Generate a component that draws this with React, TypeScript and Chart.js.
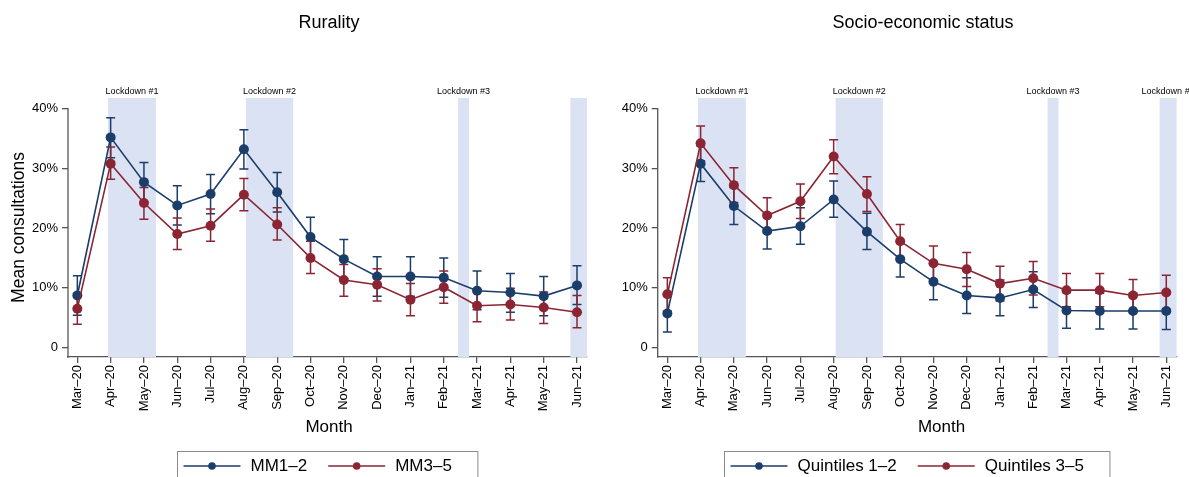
import React, { useEffect, useRef } from "react";
import { Chart, registerables } from "chart.js";

Chart.register(...registerables);

const FONT = "'Liberation Sans', Arial, Helvetica, sans-serif";
const BLUE = "#1b3d6a";
const RED = "#8b2533";
const BAND = "#dbe2f3";
const AXIS = "#555555";

// ---------- shared axis data ----------
const months = [
  "Mar–20", "Apr–20", "May–20", "Jun–20", "Jul–20", "Aug–20", "Sep–20", "Oct–20",
  "Nov–20", "Dec–20", "Jan–21", "Feb–21", "Mar–21", "Apr–21", "May–21", "Jun–21",
];
const yTicks = [0, 10, 20, 30, 40];
const yTitle = "Mean consultations";
const xTitle = "Month";

// lockdown periods (in month-index units)
const lockdownStart = [0.92, 5.06, 11.43, 14.8];
const lockdownEnd = [2.36, 6.48, 11.76, 15.6];
const lockdownLabels = ["Lockdown #1", "Lockdown #2", "Lockdown #3", "Lockdown #4"];

// ---------- Rurality ----------
const ruralityTitle = "Rurality";
const ruralityNames = ["MM1–2", "MM3–5"];
const mm12Mean = [8.7, 35.2, 27.7, 23.8, 25.7, 33.2, 26.0, 18.5, 14.8, 11.9, 11.9, 11.7, 9.5, 9.2, 8.6, 10.4];
const mm12Low = [5.4, 31.8, 24.4, 20.5, 22.4, 29.9, 22.7, 15.2, 11.5, 8.6, 8.6, 8.4, 6.3, 5.9, 5.3, 7.2];
const mm12High = [12.0, 38.5, 31.0, 27.1, 29.0, 36.5, 29.3, 21.8, 18.1, 15.2, 15.2, 15.0, 12.8, 12.4, 11.9, 13.7];
const mm35Mean = [6.5, 30.8, 24.2, 19.0, 20.4, 25.6, 20.6, 15.0, 11.3, 10.5, 8.0, 10.1, 7.0, 7.2, 6.7, 5.9];
const mm35Low = [3.9, 28.2, 21.5, 16.4, 17.8, 22.9, 18.0, 12.4, 8.6, 7.8, 5.3, 7.4, 4.3, 4.6, 4.0, 3.3];
const mm35High = [9.1, 33.6, 26.8, 21.7, 23.2, 28.3, 23.4, 17.8, 13.9, 13.2, 10.7, 12.8, 9.7, 9.9, 9.3, 8.7];

// ---------- Socio-economic status ----------
const sesTitle = "Socio-economic status";
const sesNames = ["Quintiles 1–2", "Quintiles 3–5"];
const q12Mean = [5.7, 30.8, 23.7, 19.5, 20.3, 24.8, 19.4, 14.8, 11.0, 8.7, 8.3, 9.7, 6.2, 6.1, 6.1, 6.1];
const q12Low = [2.6, 27.8, 20.6, 16.5, 17.3, 21.8, 16.4, 11.8, 8.0, 5.7, 5.3, 6.7, 3.2, 3.1, 3.1, 3.0];
const q12High = [8.8, 33.8, 26.8, 22.5, 23.4, 27.9, 22.5, 17.8, 14.0, 11.7, 11.3, 12.7, 9.2, 9.1, 9.1, 9.1];
const q35Mean = [8.9, 34.2, 27.2, 22.1, 24.5, 32.0, 25.7, 17.8, 14.1, 13.1, 10.7, 11.6, 9.6, 9.6, 8.7, 9.2];
const q35Low = [6.1, 31.3, 24.3, 19.2, 21.6, 29.1, 22.8, 15.0, 11.3, 10.2, 7.8, 8.8, 6.8, 6.8, 5.9, 6.4];
const q35High = [11.7, 37.1, 30.1, 25.1, 27.4, 34.8, 28.6, 20.6, 17.0, 15.9, 13.6, 14.4, 12.4, 12.4, 11.4, 12.1];

type Series = { label: string; color: string; mean: number[]; low: number[]; high: number[] };
type PanelSpec = {
  width: number;
  title: string;
  titleX: number;
  monthX: number;
  showYTitle: boolean;
  areaLeft: number;
  areaRight: number;
  xMin: number;
  xMax: number;
  labelCount: number;
  series: Series[];
};

const AREA_TOP = 98;
const AREA_BOTTOM = 357;
const X_AXIS_H = 81;
const H = 477;

const decorPlugin = {
  id: "decor",
  beforeDatasetsDraw(chart: any, _args: any, opts: any) {
    const { ctx, chartArea, scales } = chart;
    const x = scales.x;
    const y = scales.y;
    ctx.save();
    // lockdown bands
    ctx.fillStyle = BAND;
    const centers: number[] = [];
    for (let i = 0; i < lockdownStart.length; i++) {
      const x0 = Math.max(x.getPixelForValue(lockdownStart[i]), chartArea.left);
      const x1 = Math.min(x.getPixelForValue(lockdownEnd[i]), chartArea.right);
      ctx.fillRect(x0, chartArea.top, x1 - x0, chartArea.bottom - chartArea.top);
      centers.push((x0 + x1) / 2);
    }
    // lockdown labels
    ctx.fillStyle = "#000";
    ctx.font = `9px ${FONT}`;
    ctx.textAlign = "center";
    ctx.textBaseline = "middle";
    for (let i = 0; i < opts.labelCount; i++) {
      ctx.fillText(lockdownLabels[i], centers[i], 91.5);
    }
    // error bars
    const metas = chart.getSortedVisibleDatasetMetas().slice().reverse();
    for (const meta of metas) {
      const ds = chart.data.datasets[meta.index];
      ctx.strokeStyle = ds.borderColor;
      ctx.lineWidth = 1.5;
      const cap = 4.5;
      ds.lower.forEach((lo: number, j: number) => {
        const hi = ds.upper[j];
        const px = x.getPixelForValue(j);
        const pl = y.getPixelForValue(lo);
        const ph = y.getPixelForValue(hi);
        ctx.beginPath();
        ctx.moveTo(px, pl);
        ctx.lineTo(px, ph);
        ctx.moveTo(px - cap, pl);
        ctx.lineTo(px + cap, pl);
        ctx.moveTo(px - cap, ph);
        ctx.lineTo(px + cap, ph);
        ctx.stroke();
      });
    }
    ctx.restore();
  },
  afterDraw(chart: any, _args: any, opts: any) {
    const { ctx, chartArea, scales } = chart;
    const y = scales.y;
    ctx.save();
    // y axis line
    ctx.strokeStyle = AXIS;
    ctx.lineWidth = 1.3;
    ctx.beginPath();
    ctx.moveTo(chartArea.left, y.getPixelForValue(yTicks[yTicks.length - 1]) - 0.7);
    ctx.lineTo(chartArea.left, chartArea.bottom + 0.7);
    ctx.stroke();

    ctx.fillStyle = "#000";
    ctx.textBaseline = "middle";
    ctx.textAlign = "center";
    // title
    ctx.font = `18px ${FONT}`;
    ctx.fillText(opts.title, opts.titleX, 23);
    // x title
    ctx.font = `17px ${FONT}`;
    ctx.fillText(xTitle, opts.monthX, 427);
    // y title
    if (opts.showYTitle) {
      ctx.save();
      ctx.translate(18.8, (chartArea.top + chartArea.bottom) / 2);
      ctx.rotate(-Math.PI / 2);
      ctx.font = `17.5px ${FONT}`;
      ctx.fillText(yTitle, 0, 0);
      ctx.restore();
    }
    // legend
    ctx.font = `17px ${FONT}`;
    const items = chart.data.datasets.map((ds: any) => ({
      label: ds.label,
      color: ds.borderColor,
      w: ctx.measureText(ds.label).width,
    }));
    const lineLen = 57;
    const padL = 6;
    const padR = 26;
    const gapText = 10;
    const gapItem = 21;
    let boxW = padL + padR;
    items.forEach((it: any, i: number) => {
      boxW += lineLen + gapText + it.w + (i > 0 ? gapItem : 0);
    });
    const cx = (chartArea.left + chartArea.right) / 2;
    const boxL = Math.round(cx - boxW / 2) + 0.5;
    const boxTop = 451.5;
    ctx.strokeStyle = "#8a8a8a";
    ctx.lineWidth = 1;
    ctx.strokeRect(boxL, boxTop, boxW, 40);
    const ly = 466;
    let cur = boxL + padL;
    ctx.textAlign = "left";
    items.forEach((it: any, i: number) => {
      if (i > 0) cur += gapItem;
      ctx.strokeStyle = it.color;
      ctx.lineWidth = 1.6;
      ctx.beginPath();
      ctx.moveTo(cur, ly);
      ctx.lineTo(cur + lineLen, ly);
      ctx.stroke();
      ctx.fillStyle = it.color;
      ctx.beginPath();
      ctx.arc(cur + lineLen / 2, ly, 3.8, 0, Math.PI * 2);
      ctx.fill();
      cur += lineLen + gapText;
      ctx.fillStyle = "#000";
      ctx.fillText(it.label, cur, ly);
      cur += it.w;
    });
    ctx.restore();
  },
};

function Panel({ spec }: { spec: PanelSpec }) {
  const ref = useRef<HTMLCanvasElement>(null);
  useEffect(() => {
    const canvas = ref.current;
    if (!canvas) return;
    const chart = new Chart(canvas, {
      type: "line",
      data: {
        datasets: spec.series.map((s, i) => ({
          label: s.label,
          data: s.mean.map((v, j) => ({ x: j, y: v })),
          borderColor: s.color,
          backgroundColor: s.color,
          pointBackgroundColor: s.color,
          pointBorderColor: s.color,
          pointRadius: 5,
          pointBorderWidth: 0,
          borderWidth: 1.6,
          tension: 0,
          order: spec.series.length - i,
          lower: s.low,
          upper: s.high,
        })) as any,
      },
      options: {
        responsive: false,
        animation: false,
        devicePixelRatio: 1,
        layout: {
          padding: {
            left: 0,
            top: AREA_TOP,
            right: spec.width - spec.areaRight,
            bottom: H - AREA_BOTTOM - X_AXIS_H,
          },
        },
        plugins: {
          legend: { display: false },
          title: { display: false },
          tooltip: { enabled: false },
          decor: {
            title: spec.title,
            titleX: spec.titleX,
            monthX: spec.monthX,
            showYTitle: spec.showYTitle,
            labelCount: spec.labelCount,
          },
        } as any,
        scales: {
          x: {
            type: "linear",
            min: spec.xMin,
            max: spec.xMax,
            afterBuildTicks: (axis: any) => {
              axis.ticks = months.map((_, i) => ({ value: i }));
            },
            afterFit: (axis: any) => {
              axis.height = X_AXIS_H;
            },
            ticks: {
              autoSkip: false,
              minRotation: 90,
              maxRotation: 90,
              padding: 2,
              color: "#000",
              font: { family: FONT, size: 13 },
              callback: (v: any) => months[Number(v)] ?? "",
            },
            grid: {
              display: true,
              drawOnChartArea: false,
              drawTicks: true,
              tickLength: 6,
              color: AXIS,
              lineWidth: 1.3,
            },
            border: { display: true, color: AXIS, width: 1.3 },
          },
          y: {
            type: "linear",
            min: -1.6,
            max: 41.8,
            afterBuildTicks: (axis: any) => {
              axis.ticks = yTicks.map((v) => ({ value: v }));
            },
            afterFit: (axis: any) => {
              axis.width = spec.areaLeft;
            },
            ticks: {
              padding: 4,
              color: "#000",
              font: { family: FONT, size: 13 },
              callback: (v: any) => (Number(v) === 0 ? "0" : `${v}%`),
            },
            grid: {
              display: true,
              drawOnChartArea: false,
              drawTicks: true,
              tickLength: 6,
              color: AXIS,
              lineWidth: 1.3,
            },
            border: { display: false },
          },
        },
      } as any,
      plugins: [decorPlugin as any],
    });
    return () => chart.destroy();
  }, [spec]);
  return (
    <canvas
      ref={ref}
      width={spec.width}
      height={H}
      style={{ display: "block", width: spec.width, height: H }}
    />
  );
}

const leftSpec: PanelSpec = {
  width: 595,
  title: ruralityTitle,
  titleX: 329,
  monthX: 329,
  showYTitle: true,
  areaLeft: 68,
  areaRight: 587,
  xMin: -0.28,
  xMax: 15.3,
  labelCount: 3,
  series: [
    { label: ruralityNames[0], color: BLUE, mean: mm12Mean, low: mm12Low, high: mm12High },
    { label: ruralityNames[1], color: RED, mean: mm35Mean, low: mm35Low, high: mm35High },
  ],
};

const rightSpec: PanelSpec = {
  width: 594,
  title: sesTitle,
  titleX: 328,
  monthX: 346.5,
  showYTitle: false,
  areaLeft: 62.7,
  areaRight: 581.6,
  xMin: -0.29,
  xMax: 15.31,
  labelCount: 4,
  series: [
    { label: sesNames[0], color: BLUE, mean: q12Mean, low: q12Low, high: q12High },
    { label: sesNames[1], color: RED, mean: q35Mean, low: q35Low, high: q35High },
  ],
};

export default function App() {
  return (
    <div
      style={{
        position: "absolute",
        left: 0,
        top: 0,
        width: 1189,
        height: H,
        display: "flex",
        background: "#fff",
        overflow: "hidden",
      }}
    >
      <Panel spec={leftSpec} />
      <Panel spec={rightSpec} />
    </div>
  );
}
